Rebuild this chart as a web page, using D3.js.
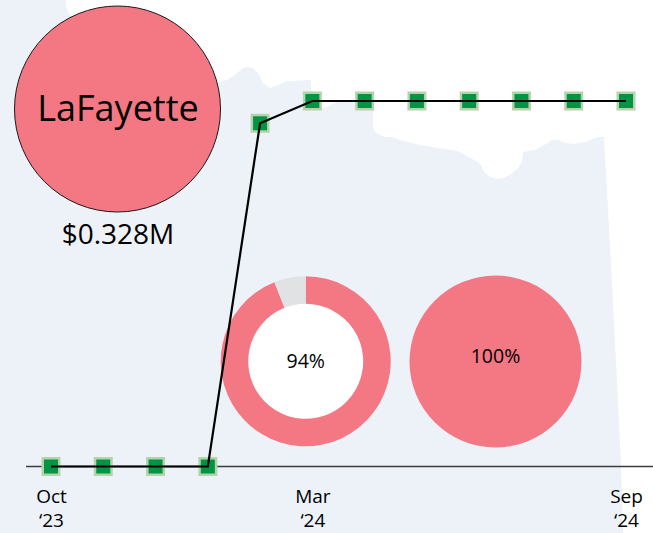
<!DOCTYPE html>
<html>
<head>
<meta charset="utf-8">
<script src="https://cdn.jsdelivr.net/npm/d3@7"></script>
<style>
	html, body { margin: 0; padding: 0; background: #ffffff; }
	svg { display: block; }
	text { font-family: "Open Sans", "Noto Sans", sans-serif; fill: #000000; }
</style>
</head>
<body>
<svg id="chart" width="653" height="533"></svg>
<script>
var months = ["Oct 23", "Nov 23", "Dec 23", "Jan 24", "Feb 24", "Mar 24", "Apr 24", "May 24", "Jun 24", "Jul 24", "Aug 24", "Sep 24"];
var spend_millions = [0, 0, 0, 0, 0.308, 0.328, 0.328, 0.328, 0.328, 0.328, 0.328, 0.328];
var tick_months = ["Oct 23", "Mar 24", "Sep 24"];
var tick_lines = {"Oct 23":["Oct", "\u201823"], "Mar 24":["Mar", "\u201824"], "Sep 24":["Sep", "\u201824"]};

var location_name = "LaFayette";
var location_total = "$0.328M";
var location_scale = [0, 0.328];
var first_share = [94, 6];
var second_share = [100, 0];

// Background state outline.
var map_outline = [[0,0],[66,0],[66,6],[68,12],[74,18],[90,30],[218,82],[227,80],[235,75],[243,68],[247,67],[253,68],[258,73],[263,83],[270,88],[278,85],[287,81],[311,80],[311,92],[316,108],[325,108],[333,104],[340,100],[373,100],[373,127],[375,132],[378,134],[385,137],[392,137],[400,140],[420,145],[445,149],[458,151],[465,155],[478,162],[482,167],[484,172],[490,177],[497,179],[503,178],[510,175],[516,170],[518,168],[522,162],[523,152],[535,150],[542,146],[548,143],[551,140],[558,140],[565,143],[575,144],[578,143],[585,142],[592,139],[598,137],[604,137],[611,263],[621,463],[623,533],[0,533]];

var PINK = "#f47884";
var GREY = "#e0e2e4";
var MAP_BLUE = "#edf2f9";

var svg = d3.select("#chart");

var x = d3.scalePoint().domain(months).range([51, 626]);
var y = d3.scaleLinear().domain([0, 0.328]).range([466.5, 101]);
var bubble_r = d3.scaleSqrt().domain(location_scale).range([0, 103]);

svg.append("path")
	.attr("d", d3.line()(map_outline) + "Z")
	.attr("fill", MAP_BLUE);

// Axis, the long rule runs wider than the point scale so it's drawn by hand.
svg.append("line")
	.attr("x1", 26).attr("x2", 653)
	.attr("y1", y(0)).attr("y2", y(0))
	.attr("stroke", "#3c3c3c")
	.attr("stroke-width", 1.4);

var axis = svg.append("g")
	.attr("transform", "translate(0," + y(0) + ")")
	.call(d3.axisBottom(x).tickValues(tick_months).tickSize(0).tickFormat(function() { return ""; }));
axis.select(".domain").remove();
axis.selectAll(".tick text").each(function(d)
{
	var label = d3.select(this).attr("y", 0).attr("dy", null).attr("font-size", 19).attr("font-family", null);
	tick_lines[d].forEach(function(part, i)
	{
		label.append("tspan")
			.attr("x", 0)
			.attr("y", 36 + i * 24.9) // second line stays just inside the bottom edge
			.text(part);
	});
});

// Big location bubble.
svg.append("circle")
	.attr("cx", 117.5)
	.attr("cy", 109)
	.attr("r", bubble_r(spend_millions[spend_millions.length - 1]))
	.attr("fill", PINK)
	.attr("stroke", "#1a1a1a")
	.attr("stroke-width", 1);

svg.append("text")
	.attr("x", 118).attr("y", 121)
	.attr("text-anchor", "middle")
	.attr("font-size", 36)
	.text(location_name);

svg.append("text")
	.attr("x", 118).attr("y", 244)
	.attr("text-anchor", "middle")
	.attr("font-size", 28)
	.text(location_total);

function draw_share(values, cx, cy, outer, inner, label, label_y, label_size)
{
	var g = svg.append("g").attr("transform", "translate(" + cx + "," + cy + ")");
	if (inner > 0)
	{
		g.append("circle").attr("r", inner).attr("fill", "#ffffff");
	}
	var arc = d3.arc().innerRadius(inner).outerRadius(outer);
	g.selectAll("path")
		.data(d3.pie().sort(null)(values))
		.enter()
		.append("path")
		.attr("d", arc)
		.attr("fill", function(d, i) { return i === 0 ? PINK : GREY; });
	return svg.append("text")
		.attr("x", cx).attr("y", label_y)
		.attr("text-anchor", "middle")
		.attr("font-size", label_size)
		.text(label);
}

var share_labels = [];
share_labels.push(draw_share(first_share, 305.7, 361.3, 85, 57.5, first_share[0] + "%", 368, 19.5));
share_labels.push(draw_share(second_share, 495.5, 361.5, 86, 0, second_share[0] + "%", 363, 19.5));

// Markers first, the line sits on top of them.
var markers = svg.append("g");
markers.selectAll("rect.halo")
	.data(spend_millions)
	.enter()
	.append("rect")
	.attr("class", "halo")
	.attr("x", function(d, i) { return x(months[i]) - 9.5; })
	.attr("y", function(d) { return y(d) - 9.5; })
	.attr("width", 19)
	.attr("height", 19)
	.attr("fill", "#b5d3ab");
markers.selectAll("rect.core")
	.data(spend_millions)
	.enter()
	.append("rect")
	.attr("class", "core")
	.attr("x", function(d, i) { return x(months[i]) - 7; })
	.attr("y", function(d) { return y(d) - 7; })
	.attr("width", 14)
	.attr("height", 14)
	.attr("fill", "#009444");

svg.append("path")
	.attr("d", d3.line()
		.x(function(d, i) { return x(months[i]); })
		.y(function(d) { return y(d); })(spend_millions))
	.attr("fill", "none")
	.attr("stroke", "#000000")
	.attr("stroke-width", 2.2);

share_labels.forEach(function(label) { label.raise(); });
</script>
</body>
</html>
